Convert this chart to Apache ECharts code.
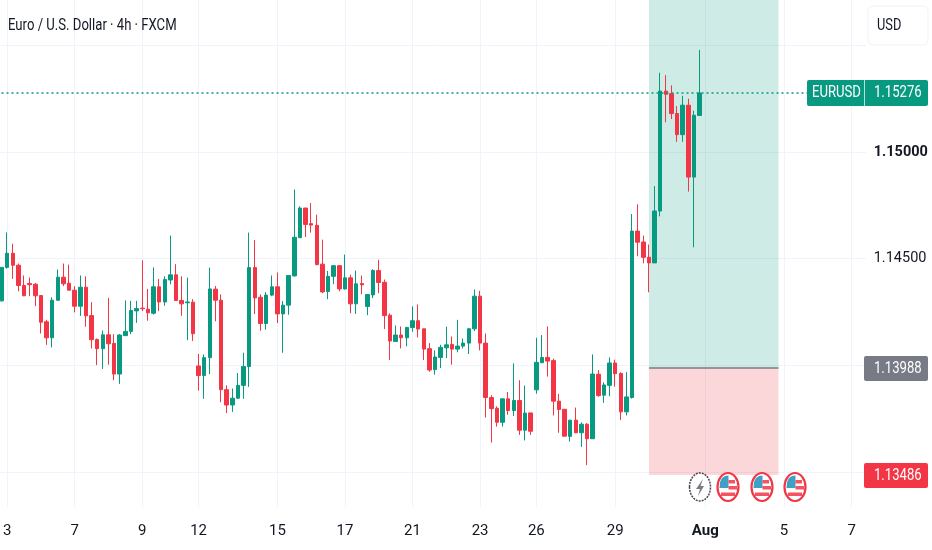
<!DOCTYPE html>
<html><head><meta charset="utf-8">
<style>html,body{margin:0;padding:0;background:#fff}#c{width:932px;height:550px}</style>
<script src="https://cdn.jsdelivr.net/npm/echarts@6/dist/echarts.min.js"></script>
</head><body><div id="c"></div>
<script>
const opens=[1.14302,1.14459,1.14525,1.14469,1.14374,1.14383,1.14380,1.14327,1.14204,1.14129,1.14305,1.14413,1.14385,1.14352,1.14277,1.14366,1.14233,1.14121,1.14078,1.14143,1.14103,1.13959,1.14139,1.14159,1.14255,1.14268,1.14263,1.14244,1.14368,1.14297,1.14400,1.14424,1.14304,1.14293,1.14296,1.13997,1.13952,1.14036,1.14357,1.14305,1.13886,1.13814,1.13846,1.13906,1.13994,1.14458,1.14319,1.14196,1.14329,1.14368,1.14241,1.14282,1.14419,1.14598,1.14737,1.14664,1.14656,1.14474,1.14346,1.14417,1.14467,1.14358,1.14410,1.14288,1.14383,1.14276,1.14330,1.14444,1.14389,1.14235,1.14112,1.14142,1.14129,1.14177,1.14209,1.14171,1.14078,1.13980,1.14037,1.14082,1.14098,1.14076,1.14090,1.14104,1.14171,1.14324,1.14104,1.13849,1.13799,1.13733,1.13843,1.13788,1.13835,1.13696,1.13777,1.13885,1.14012,1.14037,1.14022,1.13832,1.13794,1.13667,1.13743,1.13684,1.13724,1.13656,1.13958,1.13860,1.13906,1.14011,1.13962,1.13782,1.13849,1.14629,1.14578,1.14506,1.14480,1.14723,1.15285,1.15273,1.15180,1.15081,1.15219,1.14882,1.15171];
const closes=[1.14459,1.14525,1.14469,1.14374,1.14326,1.14378,1.14326,1.14202,1.14129,1.14305,1.14413,1.14382,1.14352,1.14277,1.14366,1.14232,1.14120,1.14078,1.14143,1.14101,1.13959,1.14142,1.14159,1.14257,1.14266,1.14265,1.14246,1.14368,1.14297,1.14402,1.14424,1.14304,1.14288,1.14297,1.14148,1.13952,1.14036,1.14358,1.14305,1.13886,1.13814,1.13846,1.13906,1.13994,1.14458,1.14316,1.14196,1.14329,1.14368,1.14241,1.14282,1.14421,1.14600,1.14737,1.14660,1.14657,1.14472,1.14344,1.14417,1.14467,1.14358,1.14410,1.14288,1.14382,1.14377,1.14332,1.14444,1.14388,1.14233,1.14114,1.14142,1.14129,1.14177,1.14209,1.14170,1.14076,1.13978,1.14039,1.14084,1.14096,1.14076,1.14090,1.14104,1.14171,1.14324,1.14104,1.13849,1.13797,1.13733,1.13843,1.13788,1.13835,1.13696,1.13776,1.13691,1.14014,1.14037,1.14020,1.13832,1.13793,1.13668,1.13743,1.13684,1.13724,1.13656,1.13959,1.13858,1.13908,1.14011,1.13961,1.13782,1.13852,1.14629,1.14577,1.14506,1.14480,1.14723,1.15285,1.15270,1.15180,1.15081,1.15219,1.14882,1.15172,1.15276];
const lows=[1.14299,1.14453,1.14405,1.14347,1.14324,1.14324,1.14277,1.14149,1.14096,1.14084,1.14302,1.14371,1.14352,1.14248,1.14232,1.14181,1.14079,1.14001,1.13983,1.14003,1.13930,1.13913,1.14139,1.14146,1.14199,1.14254,1.14209,1.14238,1.14254,1.14279,1.14380,1.14302,1.14232,1.14118,1.14114,1.13881,1.13843,1.13959,1.14206,1.13827,1.13776,1.13782,1.13843,1.13843,1.13899,1.14240,1.14162,1.14167,1.14324,1.14198,1.14059,1.14237,1.14417,1.14597,1.14601,1.14622,1.14469,1.14338,1.14310,1.14380,1.14347,1.14355,1.14244,1.14241,1.14333,1.14235,1.14315,1.14338,1.14170,1.14025,1.14109,1.14079,1.14089,1.14157,1.14131,1.14025,1.13970,1.13956,1.13987,1.14034,1.14003,1.14061,1.14079,1.14053,1.14160,1.14070,1.13755,1.13638,1.13713,1.13713,1.13768,1.13763,1.13674,1.13648,1.13674,1.13867,1.14012,1.13947,1.13765,1.13684,1.13667,1.13643,1.13682,1.13618,1.13532,1.13656,1.13853,1.13824,1.13855,1.13900,1.13744,1.13765,1.13844,1.14511,1.14478,1.14342,1.14480,1.14698,1.15139,1.15154,1.15047,1.15047,1.14814,1.14553,1.15169];
const highs=[1.14459,1.14623,1.14570,1.14477,1.14421,1.14411,1.14386,1.14327,1.14213,1.14319,1.14449,1.14477,1.14472,1.14371,1.14421,1.14417,1.14296,1.14126,1.14163,1.14316,1.14146,1.14146,1.14304,1.14302,1.14302,1.14492,1.14358,1.14459,1.14405,1.14417,1.14608,1.14474,1.14417,1.14411,1.14310,1.14053,1.14051,1.14458,1.14372,1.14332,1.13906,1.13891,1.13964,1.14059,1.14622,1.14587,1.14332,1.14343,1.14421,1.14435,1.14301,1.14421,1.14824,1.14745,1.14738,1.14760,1.14706,1.14589,1.14442,1.14470,1.14470,1.14519,1.14425,1.14444,1.14421,1.14333,1.14450,1.14495,1.14402,1.14243,1.14187,1.14182,1.14181,1.14276,1.14285,1.14171,1.14104,1.14070,1.14096,1.14181,1.14135,1.14213,1.14126,1.14176,1.14355,1.14349,1.14149,1.13860,1.13808,1.13843,1.13875,1.14009,1.13930,1.13905,1.13777,1.14129,1.14142,1.14182,1.14031,1.13866,1.13794,1.13744,1.13802,1.13733,1.13729,1.14051,1.13977,1.13920,1.14037,1.14026,1.13967,1.13968,1.14709,1.14754,1.14608,1.14566,1.14840,1.15371,1.15360,1.15312,1.15215,1.15263,1.15249,1.15193,1.15478];
const tickIndex=[1,13,25,35,49,61,73,85,95,109,125,139,151];
const tickLabels=['3','7','9','12','15','17','21','23','26','29','Aug','5','7'];
const priceGrid=[1.135,1.14,1.145,1.15,1.155];
const priceLabels=[1.145,1.15];
const lastPrice=1.15276, entryPrice=1.13988, stopPrice=1.13486, targetPrice=1.15712;
const zoneStart=115, zoneEnd=138;
const symbol='EURUSD', title='Euro / U.S. Dollar · 4h · FXCM';
const TOTAL=154;
const cats=Array.from({length:TOTAL},(_,i)=>{const k=tickIndex.indexOf(i);return k>=0?tickLabels[k]:'b'+i;});
const candles=opens.map((o,i)=>[o,closes[i],lows[i],highs[i]]);
const F='Roboto, sans-serif';
const GREEN='#089981',RED='#f23645',INK='#131722';
function txt(x,y,text,fill,size,z,sx){
  return {type:'text',x,y,scaleX:sx||.82,style:{text,fill,font:size+'px '+F,textVerticalAlign:'middle'},z};
}
function flag(cx,cy){
  const o=.85;
  return [{type:'ellipse',shape:{cx,cy,rx:10.5,ry:14},style:{fill:'#fff',stroke:RED,lineWidth:2.2},z:50},
    {type:'polygon',shape:{points:[[cx+.5,cy+1],[cx-8.5,cy+1],[cx-8,cy-5],[cx-6,cy-9],[cx-3,cy-11],[cx+.5,cy-11.5]]},style:{fill:'#3fa0c6'},z:51},
    {type:'rect',shape:{x:cx+.5,y:cy-7,width:6.5,height:3.5},style:{fill:RED,opacity:o},z:51},
    {type:'rect',shape:{x:cx+.5,y:cy-1,width:8.5,height:3.5},style:{fill:RED,opacity:o},z:51},
    {type:'rect',shape:{x:cx-7,y:cy+5.5,width:14,height:3.5},style:{fill:RED,opacity:o},z:51}];
}
const graphics=[
  txt(8,26,title,INK,16,60),
  {type:'rect',shape:{x:868,y:6,width:60,height:39,r:5},style:{fill:'#fff',stroke:'#f0f3fa',lineWidth:1},z:50},
  txt(877,26,'USD',INK,16,51,.8),
  {type:'rect',shape:{x:807,y:80,width:121,height:26,r:2},style:{fill:GREEN},z:50},
  txt(812,93,symbol,'#fff',16,51),
  {type:'rect',shape:{x:864,y:80,width:1,height:26},style:{fill:'#fff',opacity:.7},z:52},
  txt(874,93,lastPrice.toFixed(5),'#fff',16,52),
  {type:'rect',shape:{x:864,y:356,width:64,height:25,r:2},style:{fill:'#787b86'},z:50},
  txt(874,368.5,entryPrice.toFixed(5),'#fff',16,51),
  {type:'rect',shape:{x:864,y:463,width:64,height:25,r:2},style:{fill:RED},z:50},
  txt(874,475.5,stopPrice.toFixed(5),'#fff',16,51),
  {type:'ellipse',shape:{cx:700,cy:487,rx:10.5,ry:14},style:{fill:'#fff',stroke:'#4a4453',lineWidth:1.5,lineDash:[2,1]},z:50},
  {type:'polygon',shape:{points:[[703,479],[696,489],[700,489],[698,496],[704,486],[700.5,486]]},style:{fill:'#787b86'},z:51},
  ...flag(728,487),...flag(762,487),...flag(795,487)
];
const chart=echarts.init(document.getElementById('c'),null,{renderer:'canvas'});
chart.setOption({
  animation:false,backgroundColor:'#fff',
  grid:{left:-1.3,top:0,width:TOTAL*5.63,height:507,containLabel:false,outerBoundsMode:'none'},
  xAxis:{type:'category',data:cats,boundaryGap:true,
    axisLine:{show:false},
    axisTick:{show:false,alignWithLabel:true,customValues:tickIndex},
    splitLine:{show:true,alignWithLabel:true,lineStyle:{color:'#f0f3fa',width:1}},
    axisLabel:{customValues:tickIndex,margin:17,color:INK,fontFamily:F,fontSize:15,
      formatter:v=>v==='Aug'?'{b|Aug}':v,rich:{b:{fontWeight:'bold',fontSize:15,fontFamily:F,color:INK}}}},
  yAxis:{type:'value',position:'right',min:stopPrice-0.0015,max:targetPrice,scale:true,
    axisLine:{show:false},
    axisTick:{show:false,customValues:priceGrid},
    splitLine:{show:true,lineStyle:{color:'#f0f3fa',width:1}},
    axisLabel:{customValues:priceLabels,margin:8,color:INK,fontFamily:F,fontSize:14.5,
      formatter:v=>Math.abs(v-1.15)<1e-6?'{b|1.15000}':v.toFixed(5),rich:{b:{fontWeight:'bold',fontSize:14.5,fontFamily:F,color:INK}}}},
  series:[{type:'candlestick',data:candles,barWidth:4,
    itemStyle:{color:GREEN,color0:RED,borderColor:GREEN,borderColor0:RED,borderWidth:1},
    markArea:{silent:true,z:1,data:[
      [{xAxis:zoneStart,yAxis:targetPrice,itemStyle:{color:'rgba(8,153,129,0.2)'}},{xAxis:zoneEnd,yAxis:entryPrice}],
      [{xAxis:zoneStart,yAxis:entryPrice,itemStyle:{color:'rgba(242,54,69,0.2)'}},{xAxis:zoneEnd,yAxis:stopPrice}]]},
    markLine:{silent:true,symbol:'none',label:{show:false},data:[
      [{xAxis:0,yAxis:lastPrice,lineStyle:{color:GREEN,type:[2,3],width:1.6}},{xAxis:TOTAL-1,yAxis:lastPrice}],
      [{xAxis:zoneStart,yAxis:entryPrice,lineStyle:{color:'#787b86',type:'solid',width:1.5}},{xAxis:zoneEnd,yAxis:entryPrice}]]}
  }],
  graphic:{elements:graphics}
});
</script></body></html>
